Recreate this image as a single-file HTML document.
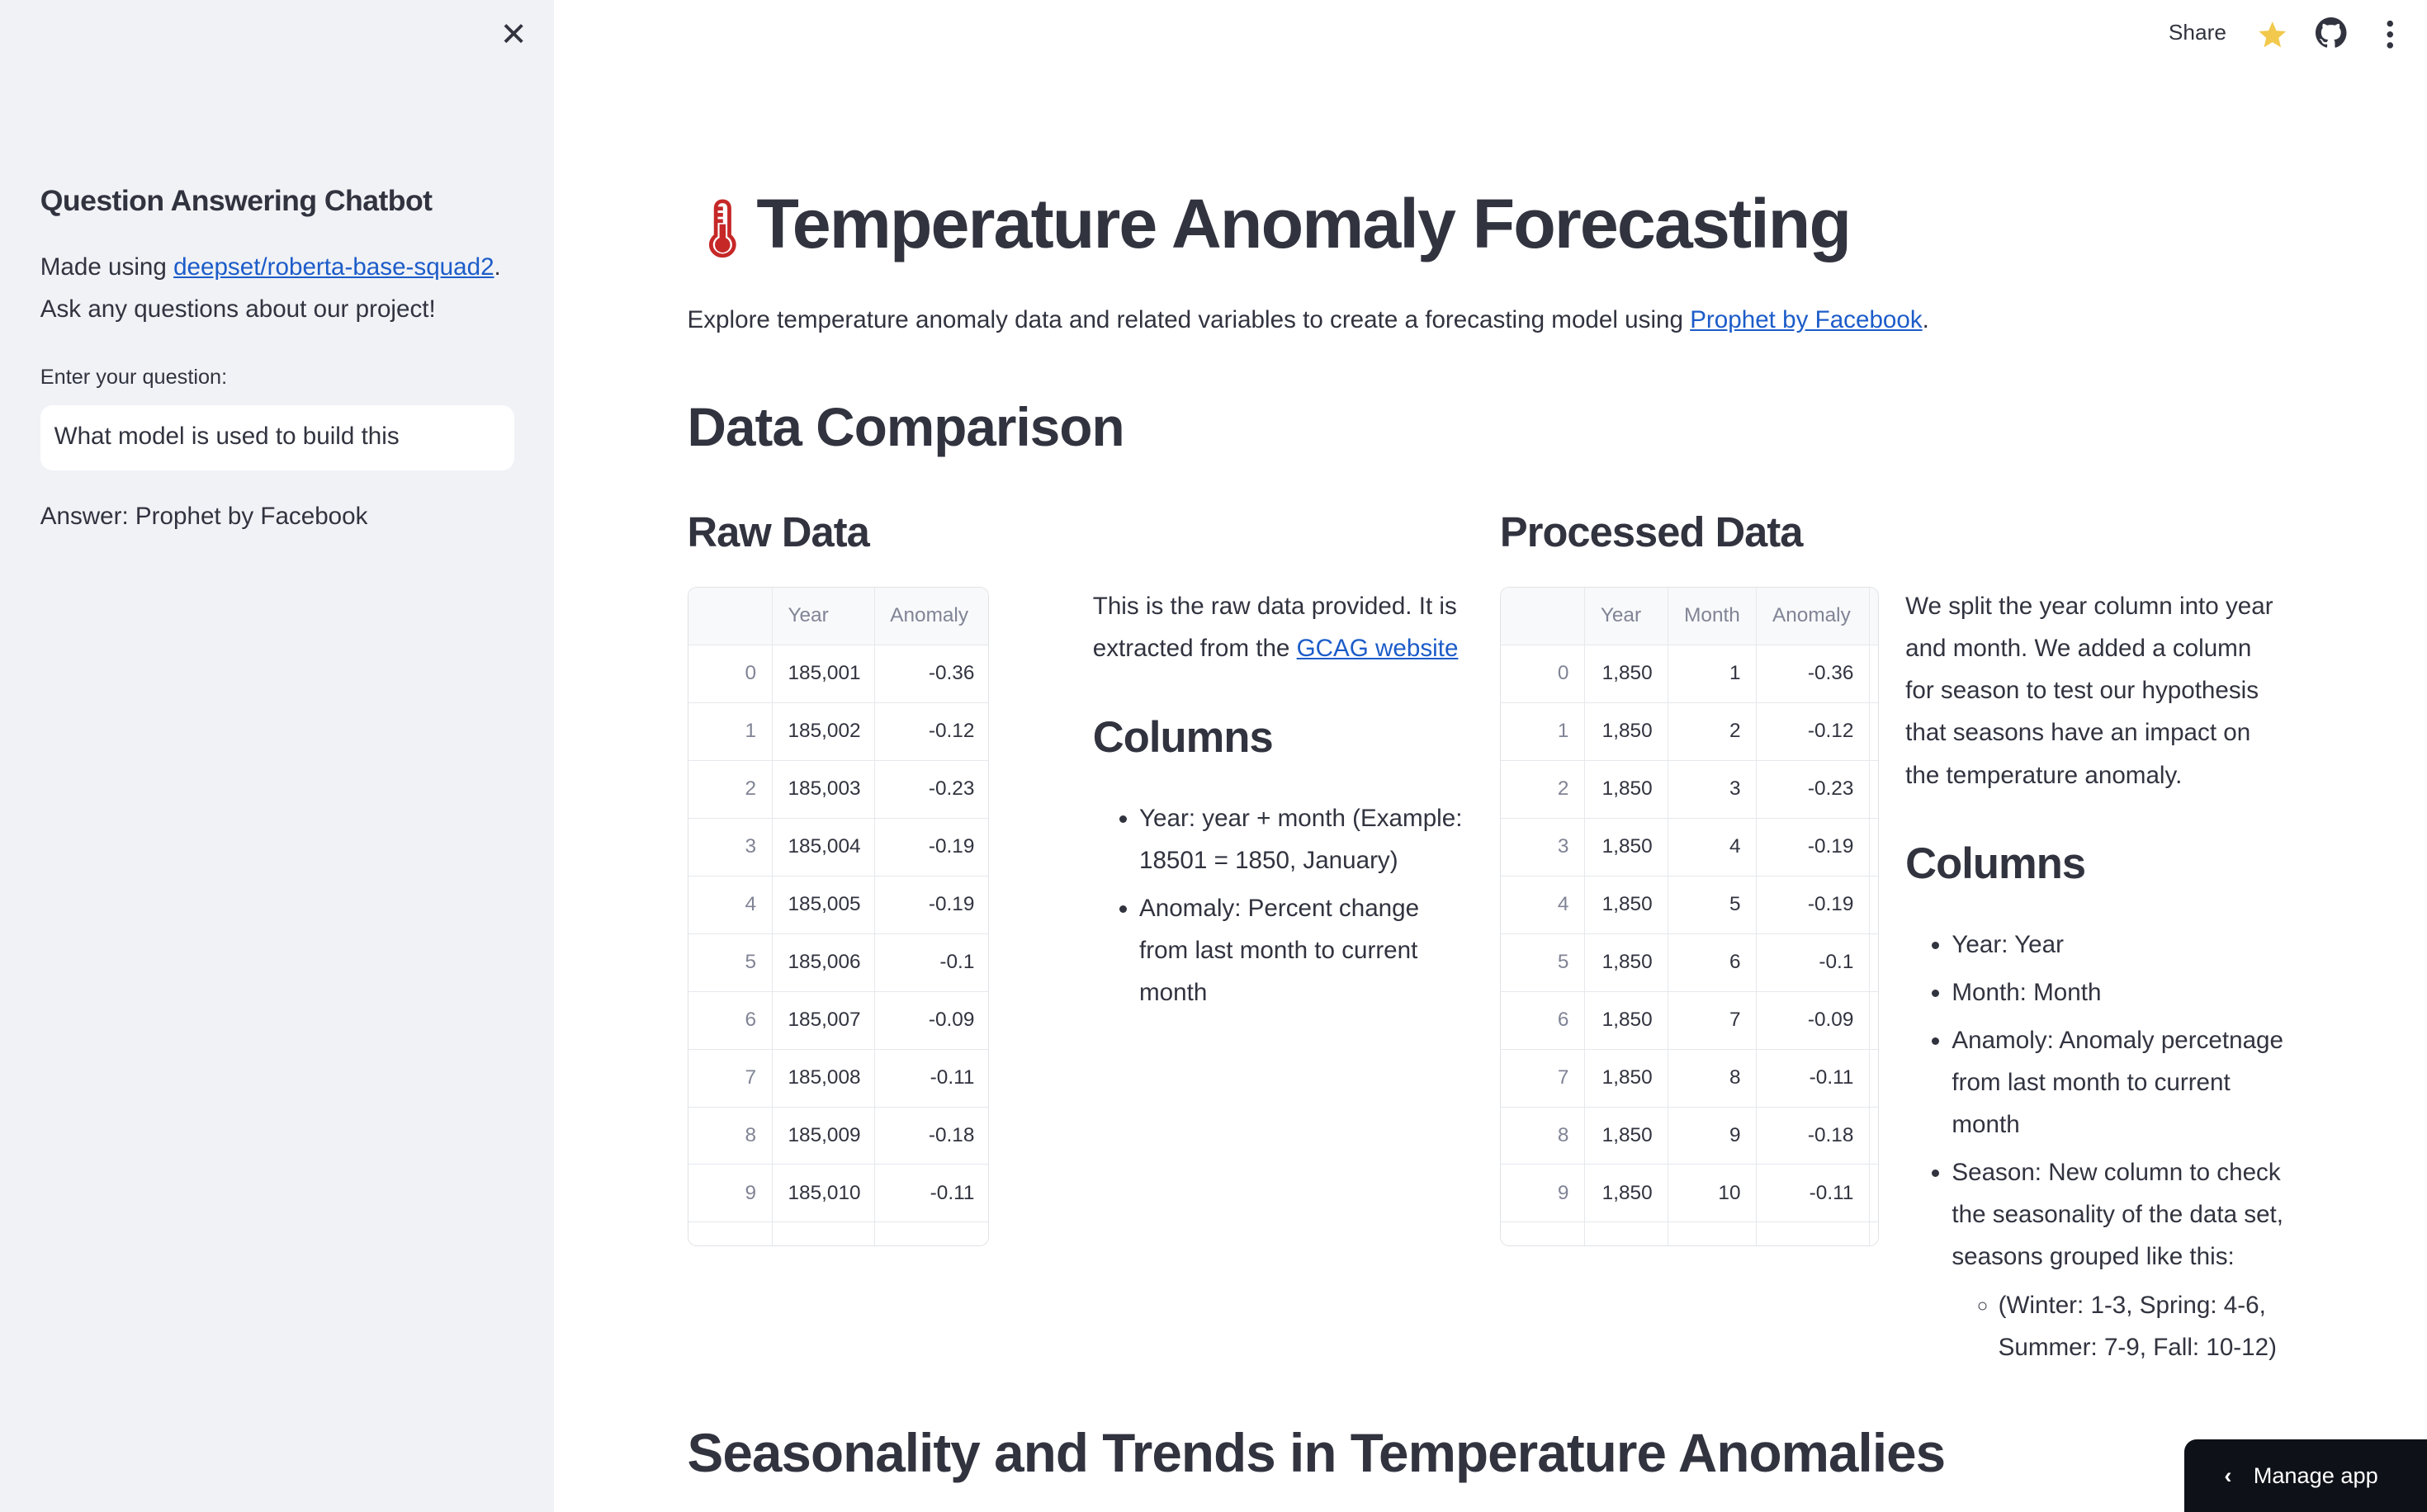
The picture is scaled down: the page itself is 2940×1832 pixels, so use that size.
<!DOCTYPE html>
<html><head><meta charset="utf-8"><style>
html,body{margin:0;padding:0;width:2940px;height:1832px;overflow:hidden;background:#fff}
#root{zoom:1.875;width:1568px;height:977px;position:relative;font-family:"Liberation Sans",sans-serif;color:#31333f}
.abs{position:absolute}
#side{left:0;top:0;width:358px;height:977px;background:#f0f2f6}
a{color:#1c5cc9;text-decoration:underline}
p{margin:0}
.t{font-size:15.8px;line-height:27.3px}
h1,h2,h3{margin:0;font-weight:bold;color:#31333f;letter-spacing:-0.5px}
table{border-collapse:collapse;font-size:13px;position:absolute;background:#fff;table-layout:fixed}
td,th{border:1px solid #e6e8ec;height:37.3px;padding:0 10px;text-align:right;box-sizing:border-box;overflow:hidden;white-space:nowrap}
th{font-weight:normal;color:#808495;background:#f8f9fb;text-align:left;height:38px}
td.i{color:#808495}
td.y{text-align:left}
.wrap{position:absolute;border:1px solid #e0e2e6;border-radius:6px;overflow:hidden;background:#fff}
ul{margin:0;padding-left:30px}
li{font-size:15.8px;line-height:27.3px;margin-bottom:3.5px}
</style></head><body>
<div id="root">
<div id="side" class="abs">
  <div class="abs" style="left:323px;top:10px;font-size:21px;color:#31333f">✕</div>
  <div class="abs" style="left:26px;top:119px;font-size:19px;font-weight:bold;letter-spacing:-0.3px">Question Answering Chatbot</div>
  <p class="abs t" style="left:26px;top:159px;width:320px">Made using <a>deepset/roberta-base-squad2</a>.<br>Ask any questions about our project!</p>
  <div class="abs" style="left:26px;top:236px;font-size:13.5px">Enter your question:</div>
  <div class="abs" style="left:26px;top:262px;width:306px;height:42px;background:#fff;border-radius:8px;box-sizing:border-box;padding:11px 9px;font-size:15.8px">What model is used to build this</div>
  <div class="abs" style="left:26px;top:325px;font-size:15.8px">Answer: Prophet by Facebook</div>
</div>

<div class="abs" style="left:1401px;top:13px;font-size:14px">Share</div>
<svg class="abs" style="left:1458px;top:12px" width="20" height="20" viewBox="0 0 24 24"><path d="M12 2l3 7 7.5.6-5.7 5 1.8 7.4L12 18l-6.6 4 1.8-7.4-5.7-5L9 9z" fill="#f2c94c"/></svg>
<svg class="abs" style="left:1496px;top:11px" width="20" height="20" viewBox="0 0 16 16"><path fill="#31333f" d="M8 0C3.58 0 0 3.58 0 8c0 3.54 2.29 6.530 5.47 7.59.4.07.55-.17.55-.38v-1.33c-2.23.48-2.7-1.07-2.7-1.07-.36-.92-.89-1.17-.89-1.17-.73-.5.05-.49.05-.49.8.06 1.23.83 1.23.83.72 1.23 1.88.87 2.34.67.07-.52.28-.87.51-1.07-1.78-.2-3.65-.89-3.650-3.95 0-.87.31-1.59.82-2.150-.08-.2-.36-1.02.08-2.12 0 0 .67-.21 2.2.82a7.6 7.6 0 014 0c1.53-1.04 2.2-.82 2.2-.82.44 1.1.16 1.92.08 2.12.51.56.82 1.27.82 2.15 0 3.07-1.87 3.75-3.65 3.95.29.25.54.73.54 1.48v2.2c0 .21.15.46.55.38A8.01 8.01 0 0016 8c0-4.420-3.58-8-8-8z"/></svg>
<svg class="abs" style="left:1538px;top:12px" width="12" height="20" viewBox="0 0 12 20"><circle cx="6" cy="3" r="2" fill="#31333f"/><circle cx="6" cy="10" r="2" fill="#31333f"/><circle cx="6" cy="17" r="2" fill="#31333f"/></svg>

<div class="abs" style="left:444px;top:119px;font-size:45px;font-weight:bold;letter-spacing:-1px;white-space:nowrap"><span style="font-size:36px;color:#c62828">🌡</span>Temperature Anomaly Forecasting</div>
<p class="abs t" style="left:444px;top:193px;white-space:nowrap">Explore temperature anomaly data and related variables to create a forecasting model using <a>Prophet by Facebook</a>.</p>
<h1 class="abs" style="left:444px;top:256px;font-size:35px">Data Comparison</h1>
<h2 class="abs" style="left:444px;top:328px;font-size:27px">Raw Data</h2>
<h2 class="abs" style="left:969px;top:328px;font-size:27px">Processed Data</h2>

<div class="wrap" style="left:444px;top:379px;width:194px;height:425px">
<table style="left:-1px;top:-1px;width:196px">
<colgroup><col style="width:55px"><col style="width:66px"><col style="width:75px"></colgroup>
<tr><th></th><th>Year</th><th>Anomaly</th></tr>
<tr><td class="i">0</td><td class="y">185,001</td><td>-0.36</td></tr>
<tr><td class="i">1</td><td class="y">185,002</td><td>-0.12</td></tr>
<tr><td class="i">2</td><td class="y">185,003</td><td>-0.23</td></tr>
<tr><td class="i">3</td><td class="y">185,004</td><td>-0.19</td></tr>
<tr><td class="i">4</td><td class="y">185,005</td><td>-0.19</td></tr>
<tr><td class="i">5</td><td class="y">185,006</td><td>-0.1</td></tr>
<tr><td class="i">6</td><td class="y">185,007</td><td>-0.09</td></tr>
<tr><td class="i">7</td><td class="y">185,008</td><td>-0.11</td></tr>
<tr><td class="i">8</td><td class="y">185,009</td><td>-0.18</td></tr>
<tr><td class="i">9</td><td class="y">185,010</td><td>-0.11</td></tr>
<tr><td class="i"></td><td></td><td></td></tr>
</table></div>

<div class="wrap" style="left:969px;top:379px;width:244px;height:425px">
<table style="left:-1px;top:-1px;width:262px">
<colgroup><col style="width:55px"><col style="width:54px"><col style="width:57px"><col style="width:73px"><col style="width:23px"></colgroup>
<tr><th></th><th>Year</th><th>Month</th><th>Anomaly</th><th></th></tr>
<tr><td class="i">0</td><td>1,850</td><td>1</td><td>-0.36</td><td></td></tr>
<tr><td class="i">1</td><td>1,850</td><td>2</td><td>-0.12</td><td></td></tr>
<tr><td class="i">2</td><td>1,850</td><td>3</td><td>-0.23</td><td></td></tr>
<tr><td class="i">3</td><td>1,850</td><td>4</td><td>-0.19</td><td></td></tr>
<tr><td class="i">4</td><td>1,850</td><td>5</td><td>-0.19</td><td></td></tr>
<tr><td class="i">5</td><td>1,850</td><td>6</td><td>-0.1</td><td></td></tr>
<tr><td class="i">6</td><td>1,850</td><td>7</td><td>-0.09</td><td></td></tr>
<tr><td class="i">7</td><td>1,850</td><td>8</td><td>-0.11</td><td></td></tr>
<tr><td class="i">8</td><td>1,850</td><td>9</td><td>-0.18</td><td></td></tr>
<tr><td class="i">9</td><td>1,850</td><td>10</td><td>-0.11</td><td></td></tr>
<tr><td class="i"></td><td></td><td></td><td></td><td></td></tr>
</table></div>

<p class="abs t" style="left:706px;top:378px;width:245px">This is the raw data provided. It is extracted from the <a>GCAG website</a></p>
<h3 class="abs" style="left:706px;top:460px;font-size:28px">Columns</h3>
<ul class="abs" style="left:706px;top:515px;width:212px">
<li>Year: year + month (Example: 18501 = 1850, January)</li>
<li>Anomaly: Percent change from last month to current month</li></ul>

<p class="abs t" style="left:1231px;top:378px;width:245px">We split the year column into year and month. We added a column for season to test our hypothesis that seasons have an impact on the temperature anomaly.</p>
<h3 class="abs" style="left:1231px;top:542px;font-size:28px">Columns</h3>
<ul class="abs" style="left:1231px;top:597px;width:215px">
<li>Year: Year</li><li>Month: Month</li>
<li>Anamoly: Anomaly percetnage from last month to current month</li>
<li>Season: New column to check the seasonality of the data set, seasons grouped like this:
<ul style="list-style:circle;margin-top:4px"><li>(Winter: 1-3, Spring: 4-6, Summer: 7-9, Fall: 10-12)</li></ul></li></ul>

<h1 class="abs" style="left:444px;top:919px;font-size:35px;white-space:nowrap">Seasonality and Trends in Temperature Anomalies</h1>
<div class="abs" style="left:1411px;top:930px;width:157px;height:47px;background:#0e1117;color:#fff;border-radius:8px 0 0 0;font-size:14.5px;line-height:47px"><span style="margin-left:26px;margin-right:14px;font-weight:bold">‹</span>Manage app</div>
</div>
</body></html>
